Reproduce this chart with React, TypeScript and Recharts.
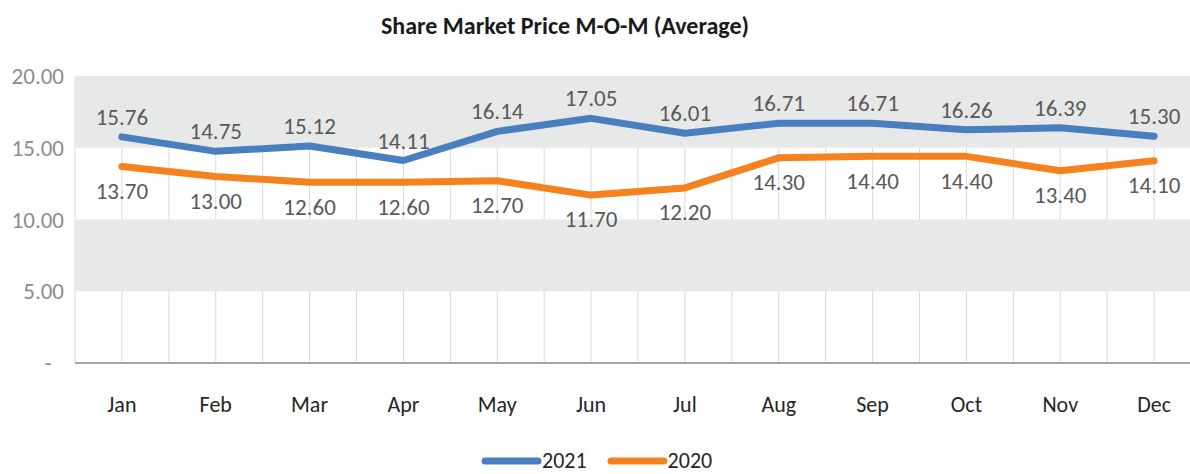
import { CartesianGrid, LabelList, Line, LineChart, ReferenceArea, XAxis, YAxis } from "recharts";

const months = ["Jan", "Feb", "Mar", "Apr", "May", "Jun", "Jul", "Aug", "Sep", "Oct", "Nov", "Dec"];
const price2021 = [15.76, 14.75, 15.12, 14.11, 16.14, 17.05, 16.01, 16.71, 16.71, 16.26, 16.39, 15.8];
// printed labels (Dec label in the source reads 15.30 though the point sits higher)
const labels2021 = ["15.76", "14.75", "15.12", "14.11", "16.14", "17.05", "16.01", "16.71", "16.71", "16.26", "16.39", "15.30"];
const price2020 = [13.7, 13.0, 12.6, 12.6, 12.7, 11.7, 12.2, 14.3, 14.4, 14.4, 13.4, 14.1];
const yTicks = [0, 5, 10, 15, 20];
const bands = [
  [15, 20],
  [5, 10],
];

const BLUE = "#4A7EBF";
const ORANGE = "#F5821F";
const FONT = "Carlito, Calibri, 'Open Sans', sans-serif";

const data = months.map((m, i) => ({
  idx: i,
  month: m,
  y2021: price2021[i],
  lbl2021: labels2021[i],
  y2020: price2020[i],
  lbl2020: price2020[i].toFixed(2),
}));

// gridlines every half category, labels only on whole ones
const xTicks: number[] = [];
for (let i = 0; i <= 24; i++) xTicks.push(-0.5 + i * 0.5);

function LegendItem({ color, label }: { color: string; label: string }) {
  return (
    <div style={{ display: "flex", alignItems: "center", height: 20, marginRight: 20 }}>
      <svg width={61} height={10}>
        <line x1={4} y1={5} x2={57} y2={5} stroke={color} strokeWidth={7} strokeLinecap="round" />
      </svg>
      <span style={{ fontSize: 22, lineHeight: "20px", color: "#262626" }}>{label}</span>
    </div>
  );
}

export default function App() {
  return (
    <div style={{ position: "absolute", left: 0, top: 0, width: 1190, height: 474, background: "#fff", fontFamily: FONT, overflow: "hidden" }}>
      <div
        style={{
          position: "absolute",
          top: 11,
          left: 0,
          width: 1130,
          textAlign: "center",
          fontWeight: 700,
          fontSize: 24,
          lineHeight: "30px",
          color: "#1a1a1a",
        }}
      >
        Share Market Price M-O-M (Average)
      </div>
      <LineChart width={1190} height={474} data={data} margin={{ top: 76, right: -11, left: 0, bottom: 0 }}>
        {bands.map(([a, b]) => (
          <ReferenceArea key={a} y1={a} y2={b} fill="#E7E8E8" fillOpacity={1} stroke="none" ifOverflow="hidden" />
        ))}
        <CartesianGrid horizontal={false} stroke="#D9D9D9" strokeWidth={1} />
        <XAxis
          dataKey="idx"
          type="number"
          domain={[-0.5, 11.5]}
          ticks={xTicks}
          interval={0}
          tickFormatter={(v: number) => (Number.isInteger(v) ? months[v] : "")}
          height={111}
          tickSize={0}
          tickMargin={33}
          tickLine={false}
          axisLine={{ stroke: "#A6A6A6", strokeWidth: 2 }}
          tick={{ fill: "#262626", fontSize: 22, fontFamily: FONT }}
        />
        <YAxis
          domain={[0, 20]}
          ticks={yTicks}
          interval={0}
          width={75}
          tickSize={0}
          tickMargin={11}
          axisLine={false}
          tickLine={false}
          tickFormatter={(v: number) => (v === 0 ? "-\u2007" : v.toFixed(2))}
          tick={{ fill: "#8C8C8C", fontSize: 23, fontFamily: FONT }}
        />
        <Line
          dataKey="y2021"
          type="linear"
          stroke={BLUE}
          strokeWidth={7}
          strokeLinecap="round"
          strokeLinejoin="round"
          dot={false}
          isAnimationActive={false}
        >
          <LabelList dataKey="lbl2021" position="top" offset={12} fill="#595959" fontSize={23} fontFamily={FONT} />
        </Line>
        <Line
          dataKey="y2020"
          type="linear"
          stroke={ORANGE}
          strokeWidth={7}
          strokeLinecap="round"
          strokeLinejoin="round"
          dot={false}
          isAnimationActive={false}
        >
          <LabelList dataKey="lbl2020" position="bottom" offset={16} fill="#595959" fontSize={23} fontFamily={FONT} />
        </Line>
      </LineChart>
      <div style={{ position: "absolute", top: 451, left: 481, display: "flex" }}>
        <LegendItem color={BLUE} label="2021" />
        <LegendItem color={ORANGE} label="2020" />
      </div>
    </div>
  );
}
